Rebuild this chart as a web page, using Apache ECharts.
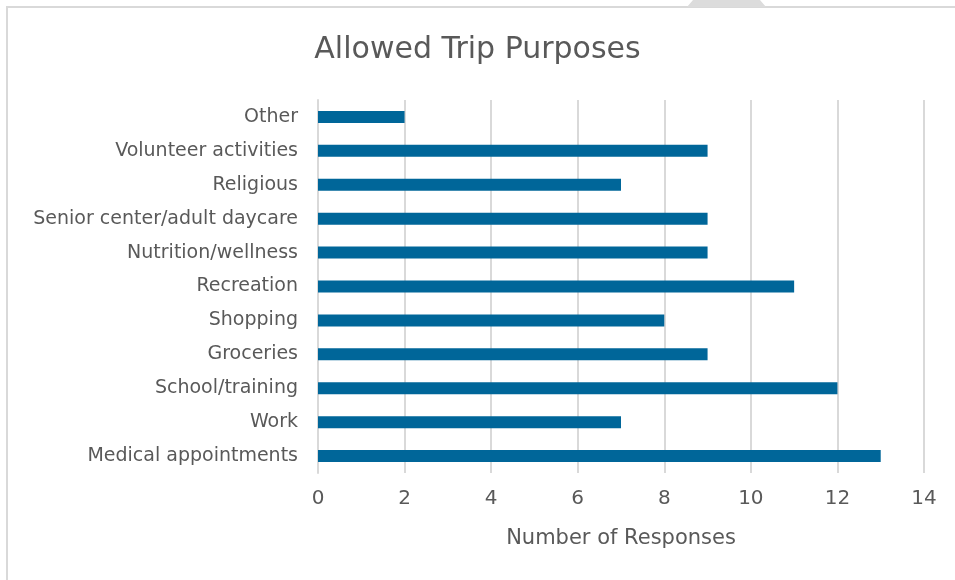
<!DOCTYPE html>
<html>
<head>
<meta charset="utf-8">
<script src="https://cdn.jsdelivr.net/npm/echarts@6/dist/echarts.min.js"></script>
<style>
  html, body { margin: 0; padding: 0; background: #fff; }
  #chart { width: 955px; height: 580px; }
</style>
</head>
<body>
<div id="chart"></div>
<script>
// categories listed bottom to top, as the category axis draws them
const purposes = ['Medical appointments', 'Work', 'School/training', 'Groceries', 'Shopping',
  'Recreation', 'Nutrition/wellness', 'Senior center/adult daycare', 'Religious',
  'Volunteer activities', 'Other'];
const responses = [13, 7, 12, 9, 8, 11, 9, 9, 7, 9, 2];

const chart = echarts.init(document.getElementById('chart'));
const font = 'DejaVu Sans';

const option = {
  animation: false,
  title: {
    text: 'Allowed Trip Purposes',
    left: 'center',
    top: 30,
    textStyle: { fontFamily: font, fontSize: 30, fontWeight: 'normal', color: '#595959' }
  },
  graphic: [
    {
      type: 'rect',
      shape: { x: 7, y: 7, width: 1000, height: 1000 },
      style: { fill: 'none', stroke: '#d9d9d9', lineWidth: 2 }
    },
    {
      type: 'polygon',
      shape: { points: [[687, 7], [693, 0], [760, 0], [766, 7]] },
      style: { fill: '#dcdcdc' }
    }
  ],
  grid: { left: 318, right: 31, top: 100, bottom: 107, containLabel: false },
  xAxis: {
    type: 'value',
    min: 0,
    max: 14,
    interval: 2,
    name: 'Number of Responses',
    nameLocation: 'middle',
    nameGap: 55,
    nameTextStyle: { fontFamily: font, fontSize: 21, color: '#595959' },
    axisLine: { show: false },
    axisTick: { show: false },
    axisLabel: { fontFamily: font, fontSize: 20, color: '#595959', margin: 16 },
    splitLine: { lineStyle: { color: '#d9d9d9', width: 2 } }
  },
  yAxis: {
    type: 'category',
    data: purposes,
    axisLine: { lineStyle: { color: '#d9d9d9', width: 2 } },
    axisTick: { show: false },
    axisLabel: { fontFamily: font, fontSize: 19, color: '#595959', margin: 20, padding: [4, 0, 0, 0] }
  },
  series: [{
    type: 'bar',
    data: responses,
    barWidth: 12,
    itemStyle: { color: '#006699' }
  }]
};
chart.setOption(option);
</script>
</body>
</html>
